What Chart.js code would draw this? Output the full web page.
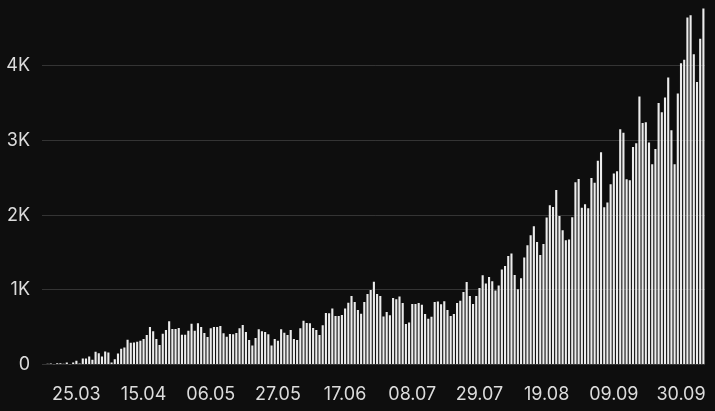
<!DOCTYPE html>
<html>
<head>
<meta charset="utf-8">
<script src="https://cdn.jsdelivr.net/npm/chart.js"></script>
<style>
  html, body { margin: 0; padding: 0; background: #0e0e0e; }
  #wrap { position: relative; width: 715px; height: 411px; }
</style>
</head>
<body>
<div id="wrap"><canvas id="dailyChart"></canvas></div>
<script>
// daily counts, 16.03 .. 07.10
const START_DAY = '2020-03-16';
const DAY_COUNT = 206;
const dailyValues = [
  9, 13, 4, 18, 18, 9, 27, 4, 27, 49,
  13, 80, 80, 107, 62, 170, 152, 107, 174, 161,
  27, 71, 147, 210, 227, 330, 290, 294, 303, 317,
  341, 395, 502, 444, 341, 261, 413, 462, 578, 475,
  475, 488, 399, 399, 453, 546, 453, 551, 502, 421,
  368, 484, 502, 502, 515, 417, 372, 408, 404, 421,
  484, 528, 435, 328, 256, 355, 471, 444, 435, 404,
  256, 341, 319, 471, 426, 395, 462, 341, 328, 484,
  586, 555, 551, 488, 462, 395, 524, 689, 685, 751,
  649, 649, 662, 751, 827, 917, 836, 729, 680, 836,
  943, 997, 1108, 943, 917, 644, 702, 658, 890, 872,
  912, 823, 542, 564, 810, 810, 823, 801, 676, 611,
  640, 836, 845, 807, 848, 729, 651, 676, 825, 854,
  970, 1104, 917, 809, 917, 1024, 1195, 1086, 1171, 1113,
  992, 1059, 1273, 1318, 1452, 1487, 1198, 1006, 1155, 1434,
  1596, 1731, 1850, 1639, 1465, 1615, 1969, 2132, 2108, 2335,
  1987, 1798, 1662, 1675, 1972, 2440, 2485, 2099, 2145, 2092,
  2496, 2433, 2727, 2843, 2107, 2170, 2415, 2556, 2587, 3149,
  3104, 2482, 2468, 2913, 2962, 3587, 3234, 3243, 2971, 2682,
  2887, 3502, 3377, 3574, 3842, 3136, 2682, 3628, 4034, 4079,
  4645, 4676, 4155, 3784, 4360, 4766
];
const xTickLabels = ['25.03', '15.04', '06.05', '27.05', '17.06', '08.07', '29.07', '19.08', '09.09', '30.09'];
const yTickValues = [0, 1000, 2000, 3000, 4000];
const yTickLabels = ['0', '1K', '2K', '3K', '4K'];
const Y_MAX = 4800;

// build dd.mm labels for each day
const dayLabels = [];
const d0 = new Date(START_DAY + 'T12:00:00');
for (let i = 0; i < DAY_COUNT; i++) {
  const d = new Date(d0.getTime() + i * 86400000);
  dayLabels.push(String(d.getDate()).padStart(2, '0') + '.' + String(d.getMonth() + 1).padStart(2, '0'));
}

const TEXT = '#dcdcdc';
const FONT = { family: 'Inter, "Noto Sans", sans-serif', size: 18 };

const ctx = document.getElementById('dailyChart').getContext('2d');
new Chart(ctx, {
  type: 'bar',
  data: {
    labels: dayLabels,
    datasets: [{
      data: dailyValues,
      backgroundColor: '#ececec',
      borderWidth: 0,
      barPercentage: 0.66,
      categoryPercentage: 1.0
    }]
  },
  options: {
    responsive: true,
    maintainAspectRatio: false,
    animation: false,
    layout: { padding: { top: 6, right: 10, bottom: 0, left: 0 } },
    plugins: {
      legend: { display: false },
      tooltip: { enabled: false }
    },
    scales: {
      x: {
        offset: true,
        grid: { display: false, drawTicks: false },
        border: { display: false },
        ticks: {
          autoSkip: false,
          maxRotation: 0,
          minRotation: 0,
          padding: 19,
          color: TEXT,
          font: FONT,
          callback: function(value) {
            const lab = this.getLabelForValue(value);
            return xTickLabels.includes(lab) ? lab : '';
          }
        },
        afterFit: function(scale) {
          scale.height = 46.5;
          scale.paddingLeft = 0;
          scale.paddingRight = 0;
        }
      },
      y: {
        min: 0,
        max: Y_MAX,
        grid: {
          color: 'rgba(255,255,255,0.16)',
          lineWidth: 1,
          drawTicks: true,
          tickLength: 4
        },
        border: { display: false },
        ticks: {
          autoSkip: false,
          padding: 12,
          color: TEXT,
          font: FONT,
          callback: function(value) {
            const k = yTickValues.indexOf(value);
            return k >= 0 ? yTickLabels[k] : '';
          }
        },
        afterBuildTicks: function(scale) {
          scale.ticks = yTickValues.map(v => ({ value: v }));
        },
        afterFit: function(scale) {
          scale.width = 46;
          scale.paddingTop = 0;
          scale.paddingBottom = 0;
        }
      }
    }
  }
});
</script>
</body>
</html>
